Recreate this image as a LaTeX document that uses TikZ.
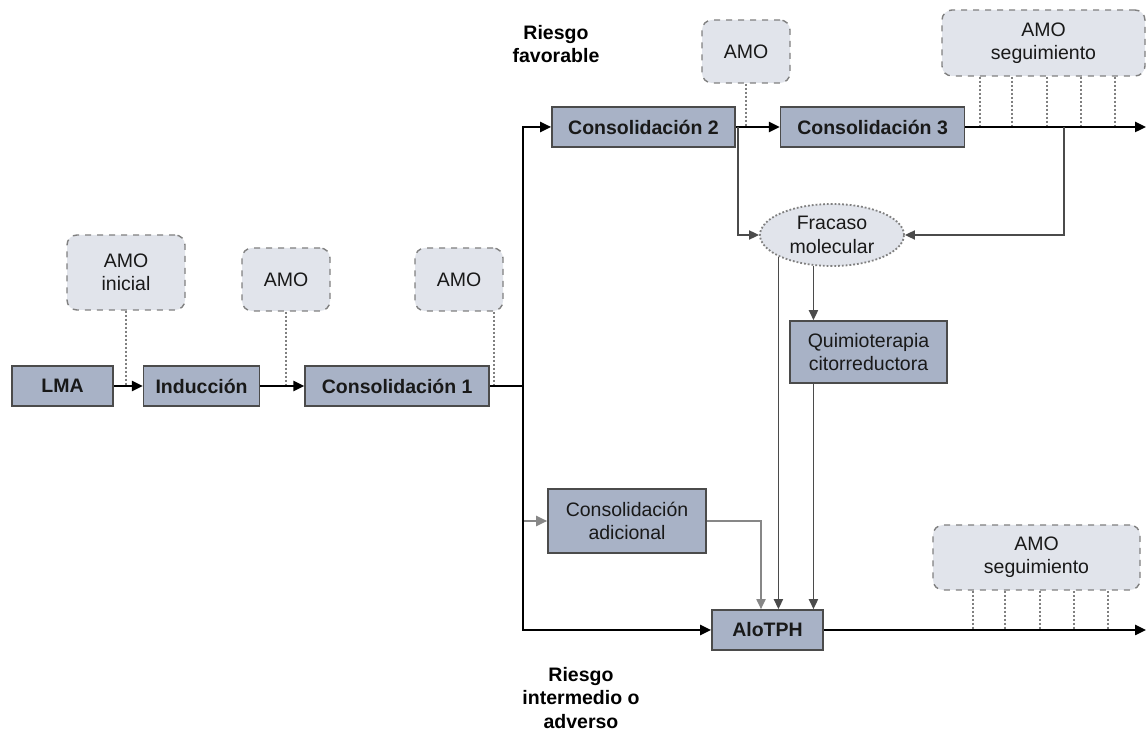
\documentclass[tikz,border=0pt]{standalone}
\usepackage{fontspec}
\setmainfont{Liberation Sans}
\usetikzlibrary{arrows.meta, positioning, shapes.geometric}
\definecolor{SlateBlue}{RGB}{168,178,198}
\definecolor{MistGray}{RGB}{225,228,235}
\definecolor{EdgeGray}{RGB}{75,75,75}
\definecolor{LightGray}{RGB}{135,135,135}
\newcommand{\flowfont}{\fontsize{9.75}{11.7}\selectfont}

\begin{document}
\begin{tikzpicture}[
    x=0.5pt, y=-0.5pt,
    font=\flowfont,
    stage/.style={draw=EdgeGray, line width=0.8pt, fill=SlateBlue,
        align=center, text=black!90, font=\flowfont\bfseries,
        minimum height=20pt, inner sep=2pt},
    amo/.style={draw=gray, dashed, line width=0.7pt, rounded corners=5pt,
        fill=MistGray, align=center, text=black!90, inner sep=2pt},
    flow/.style={-{Triangle[length=5.5pt,width=5pt]}, line width=1.2pt},
    back/.style={-{Triangle[length=5pt,width=4.5pt]}, line width=0.9pt, EdgeGray},
    probe/.style={densely dotted, line width=1pt, gray},
]
\useasboundingbox (0,0) rectangle (1147,731);

% cadena inicial
\node[stage, minimum width=50.5pt] (lma) at (62.5,386) {LMA};
\node[stage, minimum width=58pt, right=14.5pt of lma] (ind) {Inducción};
\node[stage, minimum width=92pt, right=22pt of ind] (cons1) {Consolidación 1};

% AMO sobre la cadena
\node[amo, minimum width=59pt, minimum height=37.5pt] (amo0) at (126,272.5) {AMO\\inicial};
\node[amo, minimum width=44pt, minimum height=31.5pt] (amo1) at (286,279.5) {AMO};
\node[amo, minimum width=44pt, minimum height=31.5pt] (amo2) at (459,279.5) {AMO};

% riesgo favorable
\node[stage, minimum width=91.5pt] (cons2) at (643.5,127) {Consolidación 2};
\node[stage, minimum width=92pt, right=22pt of cons2] (cons3) {Consolidación 3};
\node[amo, minimum width=44pt, minimum height=31.5pt] (amo3) at (746,51.5) {AMO};
\node[amo, minimum width=101.5pt, minimum height=33pt] (seg1) at (1043.5,43) {AMO\\seguimiento};

% fracaso molecular
\node[ellipse, draw=gray, densely dotted, line width=0.9pt, fill=MistGray,
      align=center, inner sep=0pt, minimum width=72pt, minimum height=31pt,
      text=black!90] (fra) at (832,235) {Fracaso\\molecular};
\node[stage, font=\flowfont, minimum width=78.5pt, minimum height=31pt] (qui)
    at (868.5,352) {Quimioterapia\\citorreductora};

% riesgo intermedio o adverso
\node[stage, font=\flowfont, minimum width=79pt, minimum height=32pt] (cad)
    at (627,521) {Consolidación\\adicional};
\node[stage, minimum width=55.5pt] (alo) at (767.5,630) {AloTPH};
\node[amo, minimum width=103.5pt, minimum height=32.5pt] (seg2) at (1036.5,557.5) {AMO\\seguimiento};

% etiquetas
\node[font=\flowfont\bfseries, align=center] (fav) at (556,44) {Riesgo\\favorable};
\node[font=\flowfont\bfseries, align=center] (adv) at (581,698) {Riesgo\\intermedio o\\adverso};

\coordinate (fork) at ([xshift=16.5pt]cons1.east);
\coordinate (tap) at (1064,127);
\coordinate (outA) at (1146,127);
\coordinate (outB) at (1146,630);

% sondas punteadas
\draw[probe] (amo0.south) -- (amo0.south |- lma.east);
\draw[probe] (amo1.south) -- (amo1.south |- ind.east);
\coordinate (p2) at ([xshift=-5pt]amo2.south east);
\draw[probe] (p2) -- (p2 |- cons1.east);
\draw[probe] (amo3.south) -- (amo3.south |- cons2.east);
\foreach \s/\r in {seg1/cons3, seg2/alo}
    \foreach \d in {-63.5,-32,3,37,71} {
        \coordinate (t) at ([xshift=\d*0.5pt]\s.south);
        \draw[probe] (t) -- (t |- \r.east);
    }

% flujo principal
\foreach \a/\b in {lma/ind, ind/cons1, cons2/cons3}
    \draw[flow] (\a) -- (\b);
\draw[flow, LightGray, line width=1pt] (fork |- cad.west) -- (cad.west);
\draw[line width=1.2pt] (cons1.east) -- (fork);
\draw[flow] (fork) |- (cons2.west);
\draw[flow] (fork) |- (alo.west);
\draw[flow] (cons3.east) -- (outA);
\draw[flow] (alo.east) -- (outB);

% fracaso y rescate
\draw[back] ([xshift=1pt]cons2.east) |- (fra.west);
\draw[back] (tap) |- (fra.east);
\draw[back] (fra.239) -- (fra.239 |- qui.north);
\draw[back] (fra.202) -- (fra.202 |- alo.north);
\draw[back] (fra.239 |- qui.south) -- (fra.239 |- alo.north);
\draw[back, LightGray] (cad.east) -| ([xshift=-3.25pt]alo.north);

\end{tikzpicture}
\end{document}
